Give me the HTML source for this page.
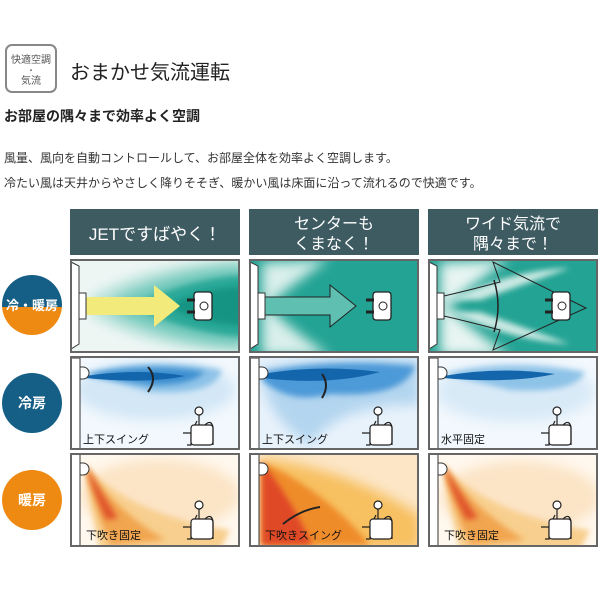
<!DOCTYPE html>
<html><head><meta charset="utf-8"><style>
body{margin:0;background:#fff;width:600px;height:600px;overflow:hidden;font-family:"Liberation Sans","Noto Sans CJK JP",sans-serif;}
</style></head><body>
<svg width="600" height="600" viewBox="0 0 600 600" xmlns="http://www.w3.org/2000/svg" font-family="Liberation Sans, Noto Sans CJK JP, sans-serif">
<defs>
<filter id="b3" x="-30%" y="-30%" width="160%" height="160%"><feGaussianBlur stdDeviation="3"/></filter>
<filter id="b6" x="-30%" y="-30%" width="160%" height="160%"><feGaussianBlur stdDeviation="6"/></filter>
<clipPath id="c11"><rect x="71" y="260" width="168" height="92"/></clipPath>
<clipPath id="c12"><rect x="250" y="260" width="168" height="92"/></clipPath>
<clipPath id="c13"><rect x="429" y="260" width="168" height="92"/></clipPath>
<clipPath id="c21"><rect x="71" y="358" width="168" height="91"/></clipPath>
<clipPath id="c22"><rect x="250" y="358" width="168" height="91"/></clipPath>
<clipPath id="c23"><rect x="429" y="358" width="168" height="91"/></clipPath>
<clipPath id="c31"><rect x="71" y="454" width="168" height="92"/></clipPath>
<clipPath id="c32"><rect x="250" y="454" width="168" height="92"/></clipPath>
<clipPath id="c33"><rect x="429" y="454" width="168" height="92"/></clipPath>
<g id="seat"><rect x="-9" y="-14" width="18" height="28" rx="3" fill="#fff" stroke="#222" stroke-width="1.3"/><circle cx="1" cy="0" r="4" fill="#fff" stroke="#222"/><path d="M-8 -6h-8M-8 6h-8" stroke="#222" stroke-width="3"/></g>
<g id="man" fill="none" stroke="#222" stroke-width="1.2"><circle cx="0" cy="0" r="4" fill="#fff"/><path d="M0 4 v16 M-2 10 l-6 12 h-8 M-8 22 v12 h-4" /><rect x="-8" y="14" width="22" height="20" rx="3" fill="#fff"/><path d="M6 14 q6 -6 8 2 v18"/></g>
</defs>

<rect x="6" y="45" width="50" height="47" rx="6" fill="#fff" stroke="#888" stroke-width="2"/>
<text x="31" y="63" font-size="10" text-anchor="middle" fill="#555">快適空調</text>
<text x="31" y="73" font-size="8" text-anchor="middle" fill="#555">・</text>
<text x="31" y="84" font-size="10" text-anchor="middle" fill="#555">気流</text>
<text x="70" y="79" font-size="20" fill="#222">おまかせ気流運転</text>
<text x="4" y="121" font-size="14" fill="#222" font-weight="bold">お部屋の隅々まで効率よく空調</text>
<text x="4" y="162" font-size="12" fill="#333">風量、風向を自動コントロールして、お部屋全体を効率よく空調します。</text>
<text x="4" y="187" font-size="12" fill="#333">冷たい風は天井からやさしく降りそそぎ、暖かい風は床面に沿って流れるので快適です。</text>

<rect x="70" y="209" width="170" height="46" fill="#3e5b62"/>
<rect x="249" y="209" width="170" height="46" fill="#3e5b62"/>
<rect x="428" y="209" width="170" height="46" fill="#3e5b62"/>
<text x="155" y="240" font-size="17" fill="#fff" text-anchor="middle">JETですばやく！</text>
<text x="334" y="229" font-size="16" fill="#fff" text-anchor="middle">センターも</text>
<text x="334" y="249" font-size="16" fill="#fff" text-anchor="middle">くまなく！</text>
<text x="513" y="229" font-size="16" fill="#fff" text-anchor="middle">ワイド気流で</text>
<text x="513" y="249" font-size="16" fill="#fff" text-anchor="middle">隅々まで！</text>

<clipPath id="cc"><circle cx="32" cy="305" r="30"/></clipPath>
<g clip-path="url(#cc)"><rect x="0" y="270" width="64" height="37" fill="#155f86"/><rect x="0" y="307" width="64" height="40" fill="#ee8a12"/></g>
<text x="32" y="310" font-size="13" fill="#fff" text-anchor="middle" font-weight="bold">冷・暖房</text>
<circle cx="32" cy="403" r="30" fill="#155f86"/>
<text x="32" y="408" font-size="14" fill="#fff" text-anchor="middle" font-weight="bold">冷房</text>
<circle cx="32" cy="500" r="30" fill="#ee8a12"/>
<text x="32" y="505" font-size="14" fill="#fff" text-anchor="middle" font-weight="bold">暖房</text>

<!-- row1 -->
<g clip-path="url(#c11)"><rect x="70" y="259" width="170" height="94" fill="#eef6f4"/>
<path d="M90 298 Q150 262 245 260 V352 Q150 350 90 314Z" fill="#b5e1d9" filter="url(#b6)"/>
<path d="M115 299 Q175 270 245 266 V346 Q175 342 115 313Z" fill="#6cc6b8" filter="url(#b6)"/>
<path d="M145 300 Q195 278 245 275 V337 Q195 334 145 312Z" fill="#2aa898" filter="url(#b3)"/>
<path d="M175 302 Q205 288 245 286 V326 Q205 324 175 310Z" fill="#139483" filter="url(#b3)"/></g>
<g clip-path="url(#c12)"><rect x="249" y="259" width="170" height="94" fill="#23a394"/>
<path d="M262 262 Q300 262 330 258 Q285 290 268 306 Q285 325 330 356 H262Z" fill="#d9efeb" filter="url(#b6)"/></g>
<g clip-path="url(#c13)"><rect x="428" y="259" width="170" height="94" fill="#23a394"/>
<path d="M440 262 Q480 262 510 258 Q465 290 448 306 Q465 325 510 356 H440Z" fill="#e8f5f2" filter="url(#b6)"/>
<path d="M450 300 Q510 270 570 268 L480 300Z" fill="#cbe9e3" filter="url(#b3)"/>
<path d="M450 312 Q510 340 570 344 L480 312Z" fill="#cbe9e3" filter="url(#b3)"/></g>
<path d="M86 297 h68 v-12 l26 21 l-26 21 v-12 h-68z" fill="#f2ea7a"/>
<path d="M264 297 h66 v-12 l26 21 l-26 21 v-12 h-66z" fill="#5fc0b2" stroke="#222" stroke-width="1"/>
<path d="M444 296 Q470 290 500 282 L493 262 L586 308 L493 350 L500 330 Q470 322 444 316" fill="none" stroke="#222" stroke-width="1"/>
<path d="M494 280 Q502 306 494 332" fill="none" stroke="#222" stroke-width="1.5"/>
<use href="#seat" x="203" y="306"/><use href="#seat" x="382" y="306"/><use href="#seat" x="561" y="306"/>

<!-- row2 -->
<g clip-path="url(#c21)"><rect x="70" y="356" width="170" height="94" fill="#f2f8fd"/>
<ellipse cx="155" cy="390" rx="80" ry="30" fill="#d3e7f6" filter="url(#b6)"/>
<path d="M85 374 Q150 356 222 370 Q215 396 150 392Z" fill="#8ec3e8" filter="url(#b3)"/>
<path d="M85 375 Q150 362 205 372 Q190 386 150 385Z" fill="#3e8fd0" filter="url(#b3)"/>
<path d="M85 376 Q140 368 185 376 Q150 384 85 378Z" fill="#1466ac"/></g>
<g clip-path="url(#c22)"><rect x="249" y="356" width="170" height="94" fill="#e8f2fb"/>
<path d="M262 368 Q340 352 420 358 V405 Q340 402 310 445 Q270 420 262 380Z" fill="#b3d5ef" filter="url(#b6)"/>
<path d="M262 372 Q330 358 415 366 Q405 398 330 394 Q290 405 262 380Z" fill="#4d9ad8" filter="url(#b3)"/>
<path d="M262 374 Q320 364 380 372 Q330 386 262 378Z" fill="#1466ac"/></g>
<g clip-path="url(#c23)"><rect x="428" y="356" width="170" height="94" fill="#f2f8fd"/>
<ellipse cx="515" cy="392" rx="80" ry="30" fill="#d9eaf7" filter="url(#b6)"/>
<path d="M443 374 Q510 358 585 372 Q575 394 510 390Z" fill="#8ec3e8" filter="url(#b3)"/>
<path d="M443 376 Q500 366 555 374 Q510 384 443 378Z" fill="#1466ac"/></g>
<path d="M148 367 Q158 378 148 392" fill="none" stroke="#222" stroke-width="2"/>
<path d="M322 374 Q330 385 322 398" fill="none" stroke="#222" stroke-width="2"/>
<text x="83" y="443" font-size="11" fill="#111">上下スイング</text>
<text x="262" y="443" font-size="11" fill="#111">上下スイング</text>
<text x="441" y="443" font-size="11" fill="#111">水平固定</text>
<use href="#man" x="199" y="411"/><use href="#man" x="378" y="411"/><use href="#man" x="557" y="411"/>

<!-- row3 -->
<g clip-path="url(#c31)"><rect x="70" y="453" width="170" height="94" fill="#fff8ee"/>
<ellipse cx="160" cy="495" rx="80" ry="36" fill="#fce4c6" filter="url(#b6)"/>
<path d="M85 465 Q130 515 230 530 L220 550 L100 550 Q88 500 85 465Z" fill="#f8cf8e" filter="url(#b3)"/>
<path d="M85 465 Q115 510 165 540 L110 545 Q92 500 85 465Z" fill="#f1a550" filter="url(#b3)"/>
<path d="M86 466 Q103 495 118 518 L106 520 Q92 490 86 466Z" fill="#e0552a" filter="url(#b3)"/></g>
<g clip-path="url(#c32)"><rect x="249" y="453" width="170" height="94" fill="#fce6c6"/>
<path d="M262 458 Q345 468 420 515 V550 H262Z" fill="#f7c060" filter="url(#b6)"/>
<path d="M262 462 Q325 490 370 545 H262Z" fill="#ef8c2a" filter="url(#b3)"/>
<path d="M262 462 Q292 500 312 545 H262Z" fill="#e04a28" filter="url(#b3)"/></g>
<g clip-path="url(#c33)"><rect x="428" y="453" width="170" height="94" fill="#fff8ee"/>
<ellipse cx="520" cy="497" rx="80" ry="36" fill="#fce4c6" filter="url(#b6)"/>
<path d="M443 465 Q490 515 590 530 L580 550 L460 550 Q447 500 443 465Z" fill="#f8cf8e" filter="url(#b3)"/>
<path d="M443 465 Q475 510 525 540 L470 545 Q450 500 443 465Z" fill="#f1a550" filter="url(#b3)"/>
<path d="M444 466 Q462 495 478 518 L466 520 Q450 490 444 466Z" fill="#e0552a" filter="url(#b3)"/></g>
<path d="M283 524 Q300 510 320 507" fill="none" stroke="#222" stroke-width="2"/>
<text x="86" y="539" font-size="11" fill="#111">下吹き固定</text>
<text x="265" y="539" font-size="11" fill="#111">下吹きスイング</text>
<text x="444" y="539" font-size="11" fill="#111">下吹き固定</text>
<use href="#man" x="199" y="505"/><use href="#man" x="378" y="505"/><use href="#man" x="557" y="505"/>

<g fill="#fff" stroke="#333" stroke-width="1">
<path d="M71 262 l8 4 v78 l-8 5z"/><path d="M250 262 l8 4 v78 l-8 5z"/><path d="M429 262 l8 4 v78 l-8 5z"/>
<rect x="79" y="293" width="7" height="26"/><rect x="258" y="293" width="7" height="26"/><rect x="437" y="293" width="7" height="26"/>
<rect x="71" y="358" width="9" height="91"/><rect x="250" y="358" width="9" height="91"/><rect x="429" y="358" width="9" height="91"/>
<path d="M80 367 h3 a5 5 0 0 1 0 12 h-3z"/><path d="M259 367 h3 a5 5 0 0 1 0 12 h-3z"/><path d="M438 367 h3 a5 5 0 0 1 0 12 h-3z"/>
<rect x="71" y="454" width="9" height="92"/><rect x="250" y="454" width="9" height="92"/><rect x="429" y="454" width="9" height="92"/>
<path d="M80 463 h3 a5 5 0 0 1 0 12 h-3z"/><path d="M259 463 h3 a5 5 0 0 1 0 12 h-3z"/><path d="M438 463 h3 a5 5 0 0 1 0 12 h-3z"/>
</g>
<g fill="none" stroke="#666" stroke-width="2">
<rect x="71" y="260" width="168" height="92"/><rect x="250" y="260" width="168" height="92"/><rect x="429" y="260" width="168" height="92"/>
<rect x="71" y="357" width="168" height="92"/><rect x="250" y="357" width="168" height="92"/><rect x="429" y="357" width="168" height="92"/>
<rect x="71" y="454" width="168" height="92"/><rect x="250" y="454" width="168" height="92"/><rect x="429" y="454" width="168" height="92"/>
</g>
</svg>
</body></html>
